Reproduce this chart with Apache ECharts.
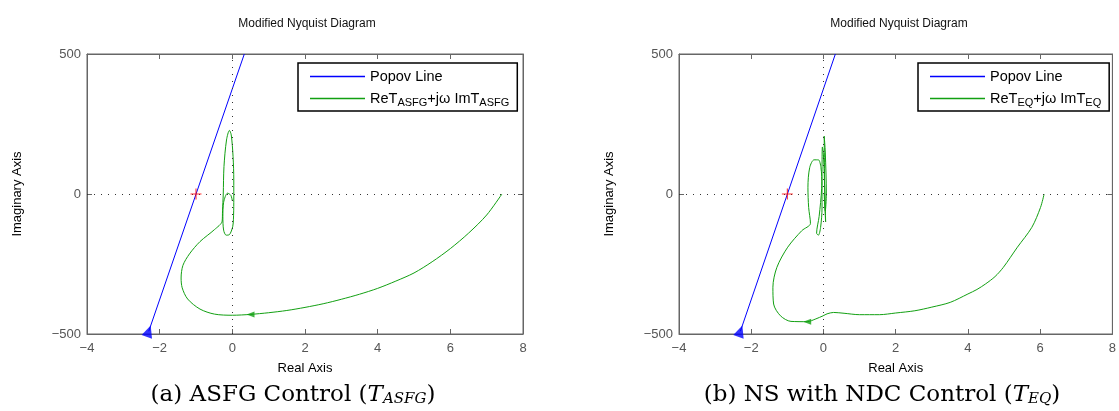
<!DOCTYPE html>
<html>
<head>
<meta charset="utf-8">
<script src="https://cdn.jsdelivr.net/npm/echarts@6/dist/echarts.min.js"></script>
<style>
  html, body { margin: 0; padding: 0; background: #fff; }
  #main { width: 1119px; height: 411px; }
</style>
</head>
<body>
<div id="main"></div>
<script>
// axis ticks
var realTicks = [-4, -2, 0, 2, 4, 6, 8];
var imagTicks = [-500, 0, 500];

// Popov line (same in both panels)
var popovRe = [-2.3, 0.33];
var popovIm = [-490, 500];
var criticalPoint = [-1, 0];

// (a) ASFG control curve
var asfgRe = [7.42, 7.0, 6.5, 6.0, 5.5, 5.0, 4.5, 4.0, 3.5, 3.0, 2.5, 2.0, 1.5, 1.0, 0.5, 0, -0.49, -0.89, -1.23,
  -1.38, -1.41, -1.36, -1.18, -0.89, -0.49, -0.28,
  -0.27, -0.25, -0.23, -0.16, -0.08, -0.03, 0.02, 0.04, 0.04, 0.03, 0.01, -0.08, -0.17, -0.24, -0.26, -0.24, -0.13, -0.04, 0.0];
var asfgIm = [0, -75, -140, -195, -242, -282, -311, -337, -358, -376, -392, -405, -416, -424, -430, -433, -429, -411, -375,
  -335, -300, -255, -214, -170, -127, -97,
  -60, 0, 98, 193, 227, 211, 134, 50, -30, -90, -117, -145, -147, -129, -80, -30, 3, -5, -25];
var asfgArrow = [0.5, -430];

// (b) NS with NDC control curve
var eqRe = [6.11, 6.01, 5.77, 5.37, 4.98, 4.75, 4.49, 4.25, 4.0, 3.51, 3.0, 2.53, 2.0, 1.55, 1.0, 0.57, 0.28, 0.10, -0.01, -0.21, -0.45, -0.9,
  -1.19, -1.38, -1.40, -1.29, -0.99, -0.60, -0.36,
  -0.41, -0.43, -0.38, -0.26, -0.14, -0.07, -0.04, -0.04, -0.08, -0.14, -0.19, -0.12, -0.05, -0.03, 0.0, 0.04, 0.06,
  0.04, 0.02, 0.05, 0.08, 0.05, 0.02];
var eqIm = [0, -48, -119, -190, -262, -295, -321, -341, -357, -387, -404, -417, -425, -431, -431, -426, -423, -428, -435, -446, -456, -455,
  -435, -393, -333, -262, -190, -131, -105,
  -48, 24, 95, 122, 122, 95, 30, -50, -120, -147, -140, -80, 20, 168, 140, 0, -100,
  -40, 207, 150, 0, -60, 0];
var eqArrow = [-0.45, -456];

function pairs(xs, ys) {
  return xs.map(function (x, i) { return [x, ys[i]]; });
}

var chart = echarts.init(document.getElementById('main'));

var sans = 'Liberation Sans';
var serif = 'DejaVu Serif';
var boxColor = '#666';
var green = '#12a012';
var crossPath = 'path://M0,4.5h10v1h-10zM4.5,0h1v10h-1z';

var panels = [
  { left: 87, re: asfgRe, im: asfgIm, arrow: asfgArrow, name: 'asfg', sub: 'ASFG', legendLeft: 298,
    titleX: 302, capX: 288, cap: '(a) ASFG Control (' },
  { left: 679, re: eqRe, im: eqIm, arrow: eqArrow, name: 'eq', sub: 'EQ', legendLeft: 918,
    titleX: 894, capX: 877, cap: '(b) NS with NDC Control (' }
];

var grids = [], xAxes = [], yAxes = [], series = [], titles = [], legends = [];

function minus(v) { return String(v).replace('-', '\u2212'); }

panels.forEach(function (p, k) {
  grids.push({ left: p.left, top: 54, width: 436, height: 280, show: true, borderColor: boxColor, borderWidth: 1, backgroundColor: '#fff' });
  var tick = { show: true, inside: true, length: 5, lineStyle: { color: boxColor } };
  var line = { show: true, onZero: false, lineStyle: { color: boxColor } };
  xAxes.push({
    gridIndex: k, type: 'value', min: realTicks[0], max: realTicks[realTicks.length - 1], interval: 2,
    position: 'bottom',
    name: 'Real Axis', nameLocation: 'middle', nameGap: 28,
    nameTextStyle: { fontFamily: sans, fontSize: 13, color: '#000' },
    axisLine: line, axisTick: tick,
    axisLabel: { fontFamily: sans, fontSize: 13, color: '#555', margin: 8, formatter: minus },
    splitLine: { show: false }
  }, {
    gridIndex: k, type: 'value', min: realTicks[0], max: realTicks[realTicks.length - 1], interval: 2,
    position: 'top', axisLine: line, axisTick: tick,
    axisLabel: { show: false }, splitLine: { show: false }
  });
  yAxes.push({
    gridIndex: k, type: 'value', min: imagTicks[0], max: imagTicks[imagTicks.length - 1], interval: 500,
    position: 'left',
    name: 'Imaginary Axis', nameLocation: 'middle', nameGap: 63, nameRotate: 90,
    nameTextStyle: { fontFamily: sans, fontSize: 13, color: '#000' },
    axisLine: line, axisTick: tick,
    axisLabel: { fontFamily: sans, fontSize: 13, color: '#555', margin: 6, formatter: minus },
    splitLine: { show: false }
  }, {
    gridIndex: k, type: 'value', min: imagTicks[0], max: imagTicks[imagTicks.length - 1], interval: 500,
    position: 'right', axisLine: line, axisTick: tick,
    axisLabel: { show: false }, splitLine: { show: false }
  });
  var xi = 2 * k, yi = 2 * k;

  series.push({
    name: 'Popov Line', type: 'line', xAxisIndex: xi, yAxisIndex: yi,
    data: pairs(popovRe, popovIm), symbol: 'none', animation: false,
    lineStyle: { color: '#0000ff', width: 1 }, itemStyle: { color: '#0000ff' },
    markLine: {
      silent: true, symbol: 'none', animation: false, label: { show: false },
      lineStyle: { color: '#333', type: [1, 6], width: 1 },
      data: [{ xAxis: 0 }, { yAxis: 0 }]
    },
    z: 3
  });
  series.push({
    name: p.name, type: 'line', xAxisIndex: xi, yAxisIndex: yi,
    data: pairs(p.re, p.im), symbol: 'none', smooth: 0.3, animation: false,
    lineStyle: { color: green, width: 1 }, itemStyle: { color: green }, z: 3
  });
  // direction arrow on the curve
  series.push({
    type: 'scatter', xAxisIndex: xi, yAxisIndex: yi, data: [p.arrow], symbol: 'triangle',
    symbolSize: [6, 8], symbolRotate: 90, itemStyle: { color: green }, animation: false, silent: true, z: 4
  });
  // arrow head at the end of the Popov line
  series.push({
    type: 'scatter', xAxisIndex: xi, yAxisIndex: yi, data: [[popovRe[0], popovIm[0]]], symbol: 'triangle',
    symbolSize: [11, 12], symbolRotate: -19, clip: false, itemStyle: { color: '#0000ff' }, animation: false, silent: true, z: 4
  });
  // critical point -1 + 0j
  series.push({
    type: 'scatter', xAxisIndex: xi, yAxisIndex: yi, data: [criticalPoint], symbol: crossPath,
    symbolSize: 11, itemStyle: { color: '#ff0000' }, animation: false, silent: true, z: 5
  });

  titles.push({
    text: 'Modified Nyquist Diagram', left: p.titleX, top: 13, textAlign: 'center',
    textStyle: { fontFamily: sans, fontSize: 12, fontWeight: 'normal', color: '#111' }
  });
  titles.push({
    text: p.cap + '{t|T}{s|' + p.sub + '})', left: p.capX, top: 378, textAlign: 'center',
    textStyle: {
      fontFamily: serif, fontSize: 23, fontWeight: 'normal', color: '#000',
      rich: {
        t: { fontFamily: serif, fontSize: 23, fontStyle: 'italic', color: '#000' },
        s: { fontFamily: serif, fontSize: 15, fontStyle: 'italic', color: '#000', padding: [9, 0, 0, 0] }
      }
    }
  });

  legends.push({
    orient: 'vertical', left: p.legendLeft, top: 63,
    data: ['Popov Line', p.name],
    backgroundColor: '#fff', borderColor: '#000', borderWidth: 1.5,
    padding: [5, 8, 3, 12], itemGap: 4, itemWidth: 55, itemHeight: 1.5, icon: 'rect',
    selectedMode: false,
    formatter: function (n) {
      if (n === 'Popov Line') return n;
      return 'ReT{s|' + p.sub + '}+j\u03c9 ImT{s|' + p.sub + '}';
    },
    textStyle: {
      fontFamily: sans, fontSize: 14.5, color: '#000', lineHeight: 17,
      rich: { s: { fontFamily: sans, fontSize: 11, color: '#000', padding: [8, 0, 0, 0], lineHeight: 11 } }
    }
  });
});

var option = {
  backgroundColor: '#fff',
  animation: false,
  title: titles,
  legend: legends,
  grid: grids,
  xAxis: xAxes,
  yAxis: yAxes,
  series: series
};

chart.setOption(option);
</script>
</body>
</html>
